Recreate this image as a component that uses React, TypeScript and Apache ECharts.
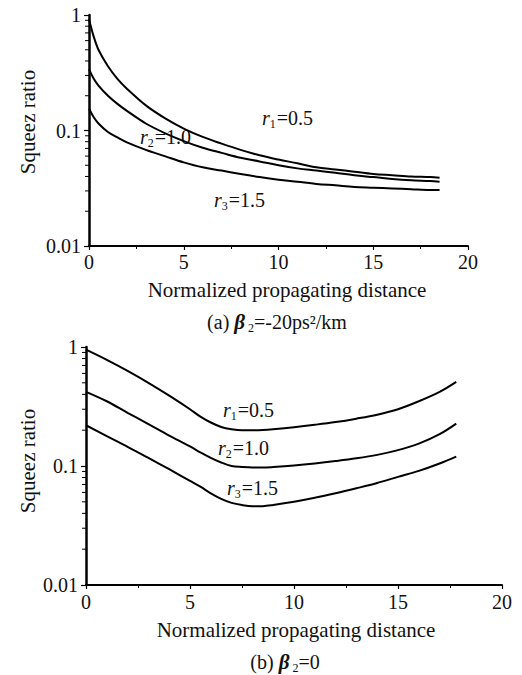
import React, { useEffect, useRef } from "react";
import * as echarts from "echarts";

// ---- Data: panel (a) beta2 = -20 ps^2/km ----
const xA = [0, 0.25, 0.5, 1, 1.5, 2, 3, 4, 5, 6, 7, 8, 9, 10, 11, 12, 13, 14, 15, 16, 17, 18, 18.5];
const r1A = [0.92, 0.65, 0.5, 0.36, 0.28, 0.23, 0.165, 0.128, 0.104, 0.088, 0.077, 0.068, 0.061, 0.056, 0.052, 0.048, 0.046, 0.044, 0.042, 0.041, 0.04, 0.0395, 0.039];
const r2A = [0.34, 0.28, 0.245, 0.2, 0.17, 0.148, 0.115, 0.095, 0.081, 0.071, 0.064, 0.058, 0.054, 0.05, 0.047, 0.045, 0.043, 0.041, 0.0395, 0.038, 0.037, 0.0365, 0.036];
const r3A = [0.155, 0.13, 0.115, 0.097, 0.087, 0.079, 0.068, 0.06, 0.053, 0.048, 0.045, 0.042, 0.0395, 0.0375, 0.036, 0.0345, 0.0335, 0.0325, 0.032, 0.0315, 0.031, 0.0305, 0.0305];

// ---- Data: panel (b) beta2 = 0 ----
const xB = [0, 1, 2, 3, 4, 5, 5.5, 6, 6.5, 7, 7.5, 8, 8.5, 9, 10, 11, 12, 13, 14, 15, 16, 17, 17.8];
const r1B = [0.95, 0.78, 0.63, 0.5, 0.39, 0.3, 0.26, 0.232, 0.213, 0.204, 0.2, 0.2, 0.201, 0.204, 0.212, 0.222, 0.234, 0.25, 0.27, 0.3, 0.35, 0.42, 0.51];
const r2B = [0.42, 0.35, 0.28, 0.225, 0.18, 0.146, 0.13, 0.117, 0.107, 0.1, 0.098, 0.097, 0.097, 0.098, 0.101, 0.105, 0.11, 0.116, 0.124, 0.136, 0.154, 0.185, 0.227];
const r3B = [0.22, 0.178, 0.145, 0.117, 0.094, 0.075, 0.067, 0.059, 0.053, 0.049, 0.047, 0.046, 0.046, 0.047, 0.05, 0.054, 0.059, 0.065, 0.072, 0.081, 0.091, 0.105, 0.12];

const yMinorTicks = [0.02, 0.03, 0.04, 0.05, 0.06, 0.07, 0.08, 0.09, 0.2, 0.3, 0.4, 0.5, 0.6, 0.7, 0.8, 0.9];
const yTickLabels: Record<string, string> = { "0.01": "0.01", "0.1": "0.1", "1": "1" };

const FONT = "'Liberation Serif', 'DejaVu Serif', serif";

function pairs(xs: number[], ys: number[]) {
  return xs.map((x, i) => [x, ys[i]]);
}

export default function App() {
  const ref = useRef<HTMLDivElement>(null);
  useEffect(() => {
    if (!ref.current) return;
    const chart = echarts.init(ref.current, null, { renderer: "svg" });

    const xAxisBase = (gridIndex: number, labelMargin: number) => ({
      type: "value",
      gridIndex,
      min: 0,
      max: 20,
      interval: 5,
      axisLine: { show: true, lineStyle: { color: "#000", width: 2 } },
      axisTick: { show: true, length: 4, inside: false, lineStyle: { color: "#000", width: 1.2 } },
      minorTick: { show: true, splitNumber: 2, length: 3, lineStyle: { color: "#000", width: 1 } },
      splitLine: { show: false },
      axisLabel: { color: "#111", fontFamily: FONT, fontSize: 20, margin: labelMargin },
    });
    const yAxisBase = (gridIndex: number) => ({
      type: "log",
      logBase: 10,
      gridIndex,
      min: 0.01,
      max: 1,
      splitNumber: 2,
      axisLine: { show: true, lineStyle: { color: "#000", width: 2.5 } },
      axisTick: { show: true, length: 5, lineStyle: { color: "#000", width: 1.2 } },
      splitLine: { show: false },
      axisLabel: {
        color: "#111",
        fontFamily: FONT,
        fontSize: 20,
        margin: 8,
        formatter: (v: number) => yTickLabels[String(+v.toPrecision(3))] ?? "",
      },
    });

    const lineSeries = (data: number[][], idx: number) => ({
      type: "line",
      xAxisIndex: idx,
      yAxisIndex: idx,
      data,
      showSymbol: false,
      smooth: 0.35,
      lineStyle: { color: "#000", width: 2 },
      silent: true,
    });

    const minorSeries = (idx: number) => ({
      type: "custom",
      xAxisIndex: idx,
      yAxisIndex: idx,
      data: yMinorTicks.map((v) => [0, v]),
      silent: true,
      renderItem: (_p: any, api: any) => {
        const pt = api.coord([api.value(0), api.value(1)]);
        return {
          type: "line",
          shape: { x1: pt[0] - 4, y1: pt[1], x2: pt[0], y2: pt[1] },
          style: { stroke: "#000", lineWidth: 1 },
        };
      },
    });

    const rLabel = (sub: string, val: string, x: number, y: number) => ({
      type: "text",
      x,
      y,
      style: {
        text: `{i|r}{s|${sub}}{n|=${val}}`,
        fontFamily: FONT,
        fill: "#111",
        align: "left",
        verticalAlign: "middle",
        rich: {
          i: { fontFamily: FONT, fontStyle: "italic", fontSize: 20, fill: "#111", verticalAlign: "middle", lineHeight: 24 },
          s: { fontFamily: FONT, fontSize: 12, fill: "#111", verticalAlign: "bottom", lineHeight: 14, padding: [0, 1, 0, 0] },
          n: { fontFamily: FONT, fontSize: 20, fill: "#111", verticalAlign: "middle", lineHeight: 24 },
        },
      },
    });

    const plainText = (text: string, x: number, y: number, rotation = 0, size = 21) => ({
      type: "text",
      x,
      y,
      rotation,
      style: {
        text,
        fontFamily: FONT,
        fontSize: size,
        fill: "#111",
        align: "center",
        verticalAlign: "middle",
      },
    });

    const caption = (lead: string, tail: string, x: number, y: number) => ({
      type: "text",
      x,
      y,
      style: {
        text: `{n|${lead}}{b|β}{s| 2}{n|${tail}}`,
        fontFamily: FONT,
        fill: "#111",
        align: "center",
        verticalAlign: "middle",
        rich: {
          n: { fontFamily: FONT, fontSize: 20, fill: "#111", verticalAlign: "middle", lineHeight: 24 },
          b: { fontFamily: FONT, fontSize: 21, fontStyle: "italic", fontWeight: "bold", fill: "#111", verticalAlign: "middle", lineHeight: 24 },
          s: { fontFamily: FONT, fontSize: 12, fill: "#111", verticalAlign: "bottom", lineHeight: 14 },
        },
      },
    });

    chart.setOption({
      animation: false,
      backgroundColor: "#fff",
      grid: [
        { left: 89, top: 15, width: 379, height: 231 },
        { left: 86, top: 347, width: 416, height: 238 },
      ],
      xAxis: [xAxisBase(0, 6), xAxisBase(1, 7)],
      yAxis: [yAxisBase(0), yAxisBase(1)],
      series: [
        lineSeries(pairs(xA, r1A), 0),
        lineSeries(pairs(xA, r2A), 0),
        lineSeries(pairs(xA, r3A), 0),
        lineSeries(pairs(xB, r1B), 1),
        lineSeries(pairs(xB, r2B), 1),
        lineSeries(pairs(xB, r3B), 1),
        minorSeries(0),
        minorSeries(1),
      ],
      graphic: [
        plainText("Squeez ratio", 28, 122, Math.PI / 2),
        plainText("Normalized propagating distance", 287, 290),
        caption("(a) ", "=-20ps²/km", 277, 322),
        rLabel("1", "0.5", 262, 118),
        rLabel("2", "1.0", 140, 137),
        rLabel("3", "1.5", 214, 200),
        plainText("Squeez ratio", 28, 461, Math.PI / 2),
        plainText("Normalized propagating distance", 296, 630),
        caption("(b) ", "=0", 285, 662),
        rLabel("1", "0.5", 223, 410),
        rLabel("2", "1.0", 218, 448),
        rLabel("3", "1.5", 227, 488),
      ],
    });
    return () => chart.dispose();
  }, []);
  return (
    <div
      ref={ref}
      style={{ position: "absolute", left: 0, top: 0, width: 522, height: 675, background: "#fff" }}
    />
  );
}
